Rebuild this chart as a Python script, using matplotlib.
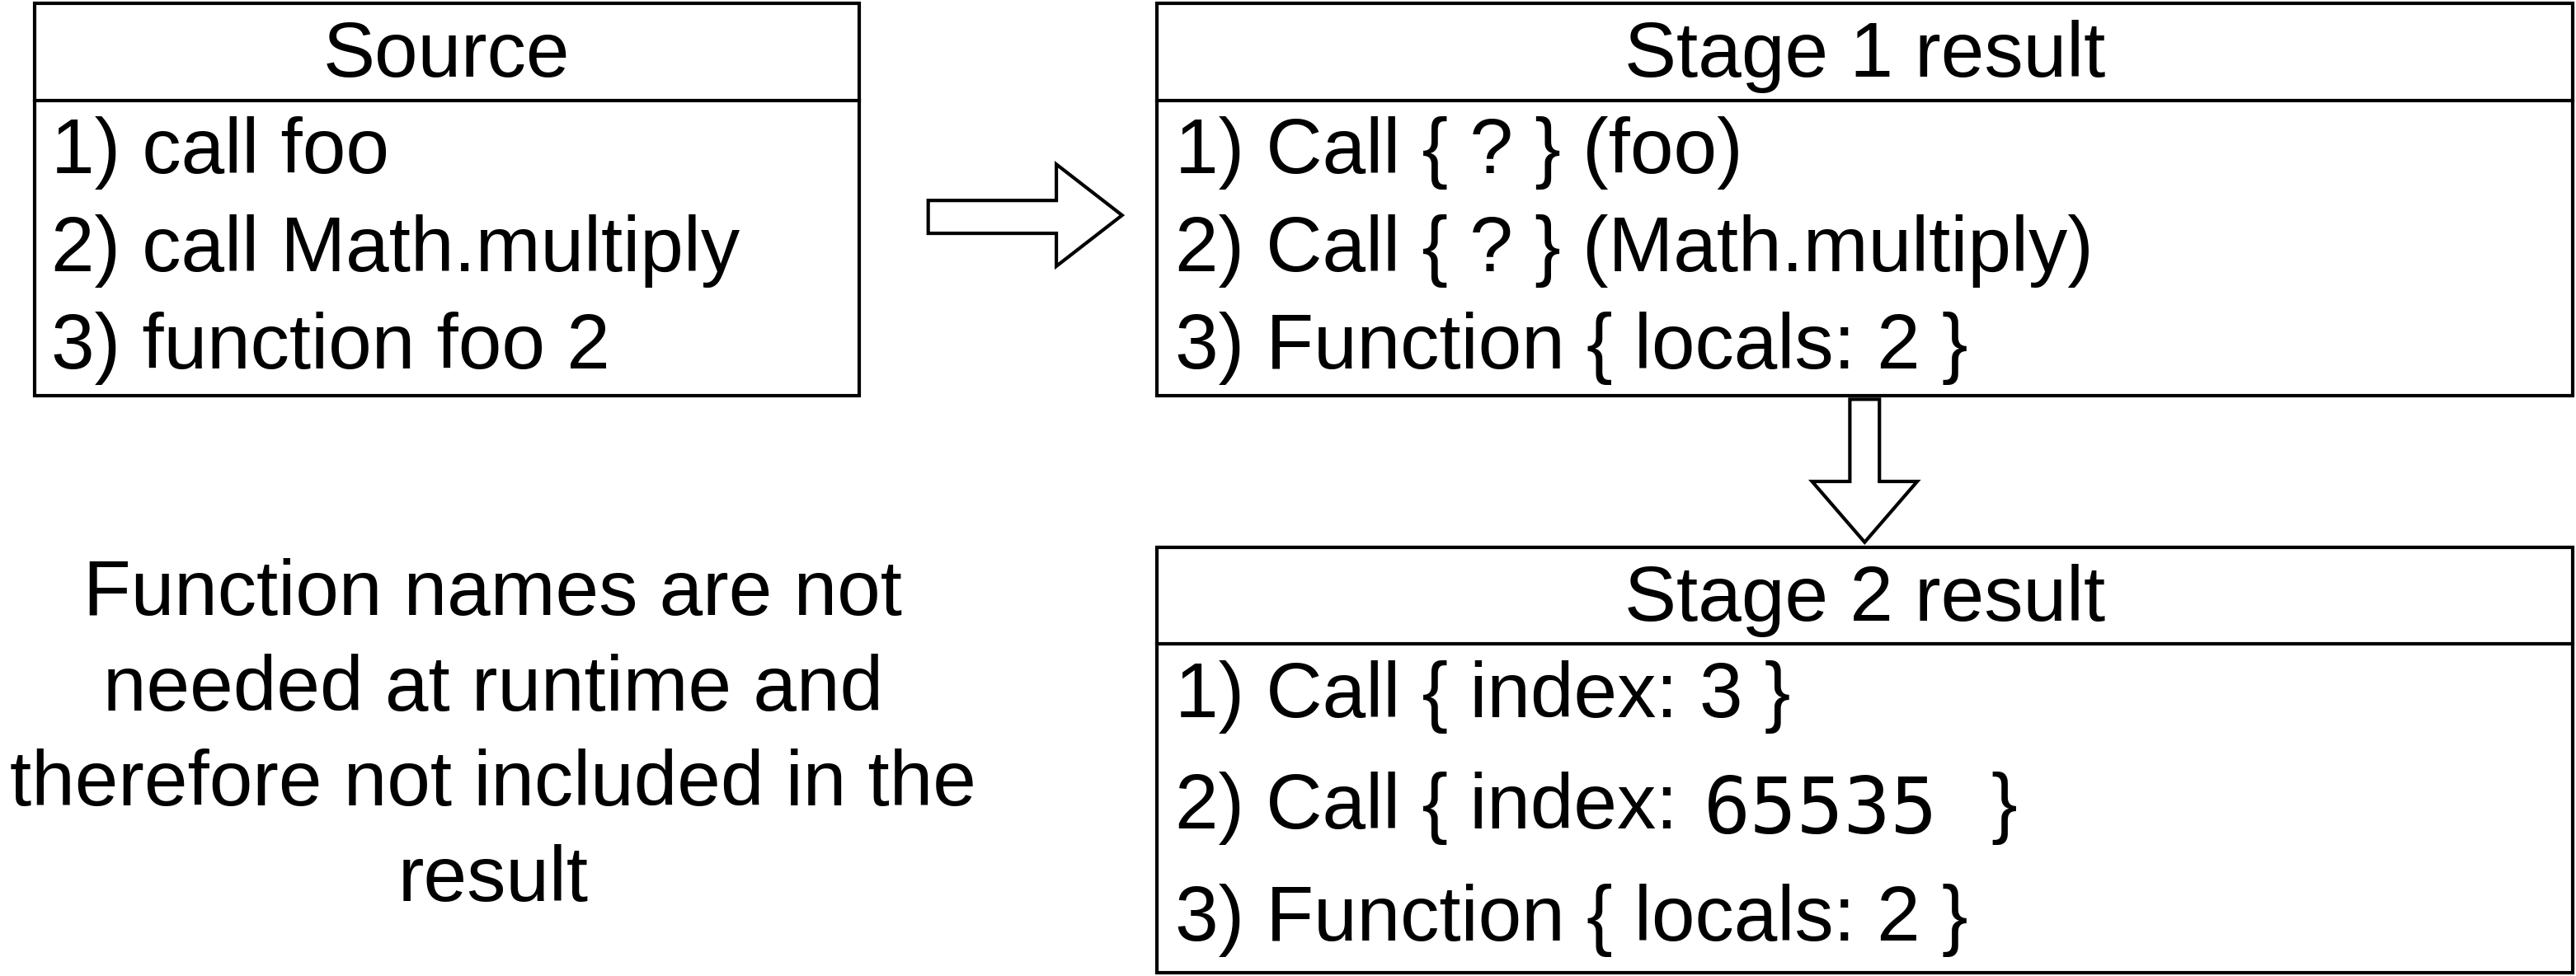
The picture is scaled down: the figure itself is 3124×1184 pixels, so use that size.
import matplotlib
matplotlib.use("Agg")
import matplotlib.pyplot as plt
from matplotlib.patches import Rectangle, Polygon

# box contents
source_title = "Source"
source_rows = ["1) call foo", "2) call Math.multiply", "3) function foo 2"]
stage1_title = "Stage 1 result"
stage1_rows = ["1) Call { ? } (foo)", "2) Call { ? } (Math.multiply)", "3) Function { locals: 2 }"]
stage2_title = "Stage 2 result"
stage2_rows = ["1) Call { index: 3 }", None, "3) Function { locals: 2 }"]
note_lines = ["Function names are not", "needed at runtime and",
              "therefore not included in the", "result"]

FS = 68
plt.rcParams["font.family"] = ["Liberation Sans", "DejaVu Sans"]

fig = plt.figure(figsize=(31.24, 11.84), dpi=100)
ax = fig.add_axes([0, 0, 1, 1])
ax.set_xlim(0, 1568)
ax.set_ylim(594, 0)
ax.axis("off")


def box(x0, x1, y0, y1, ydiv, title, rows, row_y, text_x):
    ax.add_patch(Rectangle((x0, y0), x1 - x0, y1 - y0, fill=False, lw=3, ec="black"))
    ax.plot([x0, x1], [ydiv, ydiv], color="black", lw=3)
    ax.text((x0 + x1) / 2, (y0 + ydiv) / 2 + 3, title, ha="center", va="center", fontsize=FS)
    for r, y in zip(rows, row_y):
        if r:
            ax.text(text_x, y, r, ha="left", va="center", fontsize=FS)


box(21, 523, 2, 241, 61, source_title, source_rows, [93, 153, 212], 31)
box(704, 1566, 2, 241, 61, stage1_title, stage1_rows, [93, 153, 212], 715)
box(704, 1566, 333, 592, 392, stage2_title, stage2_rows, [424, 492, 560], 715)

# mixed-font row
ax.text(715, 492, "2) Call { index: ", ha="left", va="center", fontsize=FS)
ax.text(1037, 494, "65535", ha="left", va="center", fontsize=FS, family="DejaVu Sans Mono")
ax.text(1212, 492, "}", ha="left", va="center", fontsize=FS)

for i, line in enumerate(note_lines):
    ax.text(300, 362 + i * 58, line, ha="center", va="center", fontsize=FS)

# arrows
ax.add_patch(Polygon([(565, 122), (643, 122), (643, 100), (683, 131), (643, 162),
                      (643, 142), (565, 142)], closed=True, fill=False, lw=3, ec="black"))
ax.add_patch(Polygon([(1126, 243), (1144, 243), (1144, 293), (1167, 293), (1135, 330),
                      (1103, 293), (1126, 293)], closed=True, fill=False, lw=3, ec="black"))

fig.savefig("out.png", dpi=100, facecolor="white")
